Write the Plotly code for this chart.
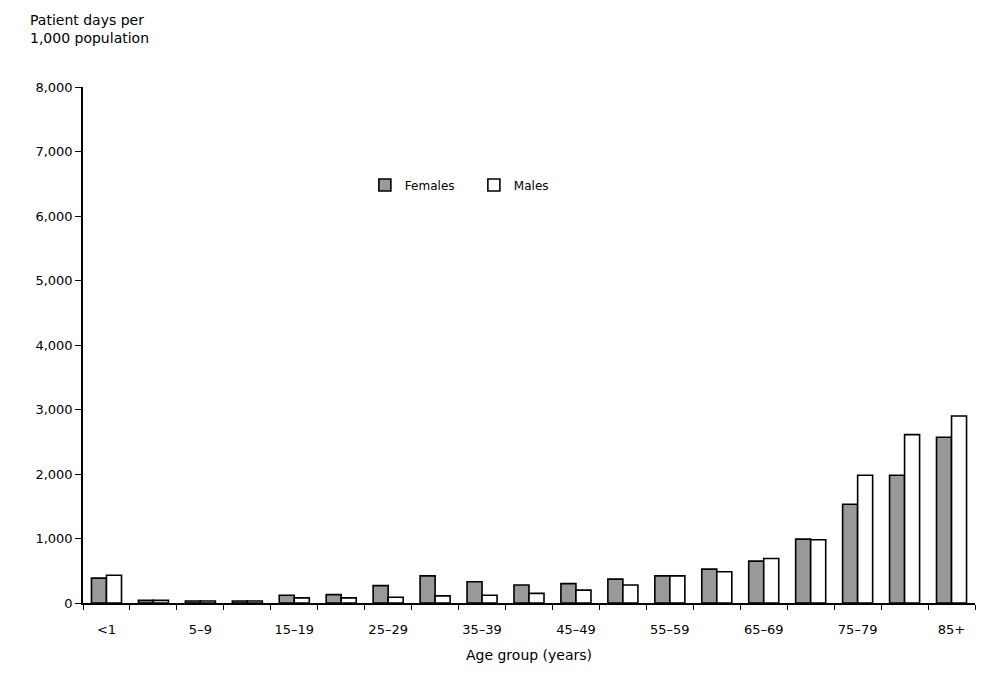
import plotly.graph_objects as go

categories = ["<1", "1–4", "5–9", "10–14", "15–19", "20–24", "25–29", "30–34", "35–39",
              "40–44", "45–49", "50–54", "55–59", "60–64", "65–69", "70–74", "75–79",
              "80–84", "85+"]
females = [385, 40, 30, 30, 120, 130, 270, 420, 330, 280, 300, 370, 420, 525, 650, 990, 1530, 1980, 2570]
males = [430, 40, 30, 30, 80, 80, 90, 110, 120, 150, 200, 280, 420, 485, 690, 980, 1980, 2610, 2900]
tick_labels = ["<1", "", "5–9", "", "15–19", "", "25–29", "", "35–39", "", "45–49", "",
               "55–59", "", "65–69", "", "75–79", "", "85+"]
y_ticks = [0, 1000, 2000, 3000, 4000, 5000, 6000, 7000, 8000]

font = "DejaVu Sans, Arial, sans-serif"

fig = go.Figure()
fig.add_trace(go.Bar(x=categories, y=females, name="Females",
                     marker=dict(color="#999999", line=dict(color="black", width=1.6))))
fig.add_trace(go.Bar(x=categories, y=males, name="Males",
                     marker=dict(color="white", line=dict(color="black", width=1.6))))

# page body has an 8px default margin, so the figure is sized to fit the window
fig.update_layout(
    width=981, height=671,
    paper_bgcolor="white", plot_bgcolor="white",
    margin=dict(l=75, r=14, t=79, b=76, autoexpand=False),
    barmode="group", bargap=0.36, bargroupgap=0,
    font=dict(family=font, size=14, color="black"),
    showlegend=True,
    legend=dict(orientation="h", x=0.316, y=0.81, xanchor="left", yanchor="middle",
                font=dict(size=12), bgcolor="rgba(0,0,0,0)",
                entrywidth=64, entrywidthmode="pixels"),
    annotations=[dict(text="Patient days per<br>1,000 population", xref="paper", yref="paper",
                      x=-0.062, y=1.15, xanchor="left", yanchor="top", showarrow=False,
                      align="left", font=dict(size=14))],
)
fig.update_xaxes(
    type="category", tickvals=categories, ticktext=tick_labels, tickangle=0,
    ticks="outside", tickson="boundaries", ticklen=5, tickcolor="black",
    ticklabelstandoff=14,
    showline=True, linecolor="black", linewidth=1.5, showgrid=False,
    title=dict(text="Age group (years)", standoff=14, font=dict(size=14)),
    tickfont=dict(size=13), automargin=False,
)
fig.update_yaxes(
    range=[0, 8000], tickvals=y_ticks, tickformat=",d",
    ticks="outside", ticklen=6, tickcolor="black",
    showline=True, linecolor="black", linewidth=1.5, showgrid=False, zeroline=False,
    tickfont=dict(size=13), automargin=False,
)

fig.write_html("out.html")
